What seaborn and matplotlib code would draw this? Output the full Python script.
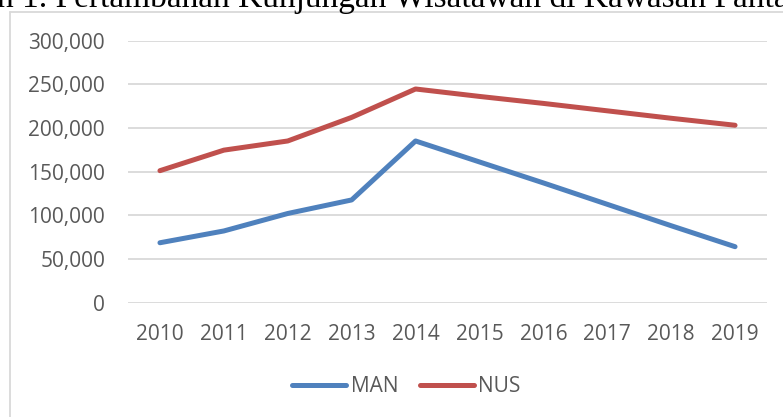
import matplotlib
matplotlib.use("Agg")
import matplotlib.pyplot as plt
import pandas as pd
import seaborn as sns
from matplotlib.lines import Line2D
from matplotlib.ticker import FuncFormatter

# data
years = [2010, 2011, 2012, 2013, 2014, 2015, 2016, 2017, 2018, 2019]
man = [68500, 82000, 102000, 117500, 185000, 161000, 137000, 112500, 88000, 64000]
nus = [151000, 174500, 185000, 212000, 244500, 236000, 228000, 219500, 211000, 203000]
series_names = ["MAN", "NUS"]
colors = ["#4F81BD", "#C0504D"]
title_text = "n 1. Pertambahan Kunjungan Wisatawan di Kawasan Panta"

sns.set_theme(style="white")
plt.rcParams["font.family"] = ["Open Sans", "DejaVu Sans"]

df = pd.DataFrame({
    "tahun": years * 2,
    "kunjungan": man + nus,
    "seri": [series_names[0]] * len(years) + [series_names[1]] * len(years),
})

W, H = 783, 417
fig = plt.figure(figsize=(W / 100, H / 100), dpi=100)
ax = fig.add_axes([128 / W, 1 - 302.6 / H, (767 - 128) / W, (302.6 - 40.5) / H])

sns.lineplot(data=df, x="tahun", y="kunjungan", hue="seri", palette=colors,
             linewidth=3.6, ax=ax, legend=False)
for ln in ax.lines:
    ln.set_solid_capstyle("round")

ax.set_xlim(years[0] - 0.5, years[-1] + 0.5)
ax.set_ylim(0, 300000)
ax.set_yticks(range(0, 300001, 50000))
ax.set_xticks(years)
ax.yaxis.set_major_formatter(FuncFormatter(lambda v, p: f"{int(v):,}"))
ax.grid(axis="y", color="#D9D9D9", linewidth=1.3)
ax.set_axisbelow(True)
for s in ax.spines.values():
    s.set_visible(False)
ax.tick_params(axis="both", length=0, labelsize=15, labelcolor="#595959")
ax.tick_params(axis="y", pad=16.5)
ax.tick_params(axis="x", pad=15.5)
ax.set_xlabel("")
ax.set_ylabel("")

handles = [Line2D([], [], color=c, linewidth=3.6, solid_capstyle="round") for c in colors]
fig.legend(handles, series_names, loc="center", bbox_to_anchor=(0.519, 1 - 387 / H),
           ncol=2, frameon=False, fontsize=15, handlelength=2.6, handletextpad=0.2,
           columnspacing=1.05, labelcolor="#595959")

# chart border (only the top-left part is visible in the picture)
fig.add_artist(Line2D([9.5 / W, 9.5 / W], [0, 1 - 12 / H], color="#D9D9D9", linewidth=1.3))
fig.add_artist(Line2D([9.5 / W, 1], [1 - 12 / H, 1 - 12 / H], color="#D9D9D9", linewidth=1.3))

# the caption above the chart is clipped by the top and side edges, as in the picture
fig.text(-3 / W, 1 - 7 / H, title_text, family=["Liberation Serif"], fontsize=24,
         color="black", ha="left", va="baseline")

fig.savefig("out.png", dpi=100)
